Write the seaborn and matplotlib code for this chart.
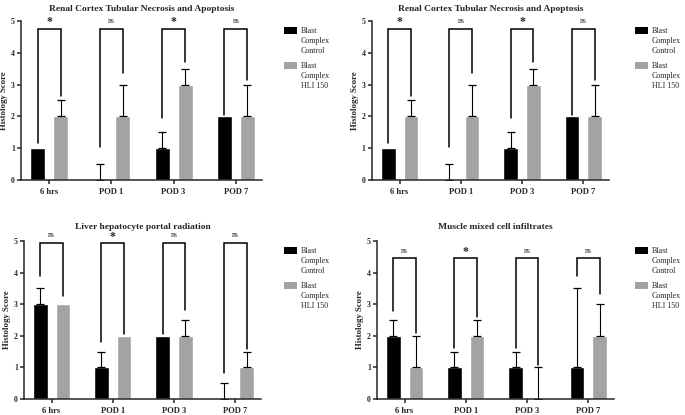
import numpy as np
import pandas as pd
import seaborn as sns
import matplotlib.pyplot as plt
from matplotlib.patches import Rectangle

times = ['6 hrs', 'POD 1', 'POD 3', 'POD 7']
groups = ['Blast Complex Control', 'Blast Complex HLI 150']
legend_labels = ['Blast\nComplex\nControl', 'Blast\nComplex\nHLI 150']
colors = ['#000000', '#a3a3a3']

# renal cortex (same panel shown twice)
renal_ctrl = [1, 0, 1, 2]
renal_ctrl_err = [0, 0.5, 0.5, 0]
renal_hli = [2, 2, 3, 2]
renal_hli_err = [0.5, 1, 0.5, 1]
renal_sig = ['*', 'ns', '*', 'ns']
renal_leg_ctrl = [1.15, 1.05, 1.95, 2.05]
renal_leg_hli = [2.65, 3.35, 3.7, 3.15]

# liver
liver_ctrl = [3, 1, 2, 0]
liver_ctrl_err = [0.5, 0.5, 0, 0.5]
liver_hli = [3, 2, 2, 1]
liver_hli_err = [0, 0, 0.5, 0.5]
liver_sig = ['ns', '*', 'ns', 'ns']
liver_leg_ctrl = [3.9, 1.8, 2.05, 0.82]
liver_leg_hli = [3.25, 2.05, 2.82, 1.58]

# muscle
muscle_ctrl = [2, 1, 1, 1]
muscle_ctrl_err = [0.5, 0.5, 0.5, 2.5]
muscle_hli = [1, 2, 0, 2]
muscle_hli_err = [1, 0.5, 1, 1]
muscle_sig = ['ns', '*', 'ns', 'ns']
muscle_leg_ctrl = [2.78, 1.62, 1.62, 3.9]
muscle_leg_hli = [2.1, 2.6, 1.08, 3.32]

W, H = 685, 415


def add_legend(ax, px_left):
    # legend drawn by hand so the swatch sits next to the first text line
    bb = ax.get_position()
    ax_l, ax_top = bb.x0 * W, (1 - bb.y1) * H
    ax_w, ax_h = bb.width * W, bb.height * H
    fx = lambda px: (px - ax_l) / ax_w
    fy = lambda py: 1 - (py - ax_top) / ax_h
    for k, (c, lab) in enumerate(zip(colors, legend_labels)):
        top = ax_top + 6 + 35 * k
        ax.add_patch(Rectangle((fx(px_left), fy(top + 7)), 13 / ax_w, 7 / ax_h,
                               transform=ax.transAxes, facecolor=c,
                               edgecolor='none', clip_on=False))
        ax.text(fx(px_left + 17), fy(top + 0.3), lab, transform=ax.transAxes,
                ha='left', va='top', fontsize=5.8, linespacing=1.3)


def draw_panel(ax, title, ctrl, ctrl_err, hli, hli_err, sig, top, leg_ctrl, leg_hli,
               title_pad, legend_x):
    df = pd.DataFrame({'time': times * 2,
                       'group': [groups[0]] * 4 + [groups[1]] * 4,
                       'score': ctrl + hli})
    sns.barplot(data=df, x='time', y='score', hue='group', palette=colors,
                saturation=1, width=0.74, gap=0.35, errorbar=None,
                legend=False, ax=ax)
    centers = []
    for cont, errs in zip(ax.containers, [ctrl_err, hli_err]):
        xs = np.array([b.get_x() + b.get_width() / 2 for b in cont])
        ys = np.array([b.get_height() for b in cont])
        centers.append(xs)
        e = np.array(errs, dtype=float)
        m = e > 0
        ax.errorbar(xs[m], ys[m], yerr=[np.zeros(m.sum()), e[m]], fmt='none',
                    ecolor='black', elinewidth=0.8, capsize=3.2, capthick=0.9)
    # significance brackets
    for i in range(4):
        xc, xh = centers[0][i], centers[1][i]
        ax.plot([xc, xc, xh, xh], [leg_ctrl[i], top, top, leg_hli[i]],
                color='black', lw=1.1, clip_on=False, solid_joinstyle='miter')
        if sig[i] == '*':
            ax.text((xc + xh) / 2, top + 0.02, '*', ha='center', va='bottom',
                    fontsize=8.5, fontweight='bold', clip_on=False)
        else:
            ax.text((xc + xh) / 2, top + 0.12, 'ns', ha='center', va='bottom',
                    fontsize=5.5, clip_on=False)

    ax.set_ylim(0, 5)
    ax.set_yticks([0, 1, 2, 3, 4, 5])
    ax.set_xlim(-0.45, 3.42)
    ax.set_xlabel('')
    ax.set_ylabel('Histology Score', fontsize=6.3, fontweight='bold', labelpad=2)
    ax.set_title(title, fontsize=6.8, fontweight='bold', pad=title_pad)
    sns.despine(ax=ax)
    for s in ['left', 'bottom']:
        ax.spines[s].set_linewidth(1.1)
    ax.tick_params(axis='both', width=1.1, length=3, pad=1.5)
    ax.tick_params(axis='x', labelsize=6.1, pad=3)
    ax.tick_params(axis='y', labelsize=5.6)
    for lab in ax.get_xticklabels() + ax.get_yticklabels():
        lab.set_fontweight('bold')
    add_legend(ax, legend_x)


sns.set_style('ticks')
plt.rcParams['font.family'] = ['Liberation Serif', 'DejaVu Serif']

fig = plt.figure(figsize=(6.85, 4.15), dpi=100)
ax1 = fig.add_axes([21 / W, 1 - 180 / H, 241 / W, 159 / H])
ax2 = fig.add_axes([372 / W, 1 - 180 / H, 237 / W, 159 / H])
ax3 = fig.add_axes([24 / W, 1 - 399 / H, 237 / W, 158 / H])
ax4 = fig.add_axes([377 / W, 1 - 399 / H, 237 / W, 158 / H])

draw_panel(ax1, 'Renal Cortex Tubular Necrosis and Apoptosis', renal_ctrl, renal_ctrl_err,
           renal_hli, renal_hli_err, renal_sig, 4.75, renal_leg_ctrl, renal_leg_hli, 7.5, 284)
draw_panel(ax2, 'Renal Cortex Tubular Necrosis and Apoptosis', renal_ctrl, renal_ctrl_err,
           renal_hli, renal_hli_err, renal_sig, 4.75, renal_leg_ctrl, renal_leg_hli, 7.5, 635)
draw_panel(ax3, 'Liver hepatocyte portal radiation', liver_ctrl, liver_ctrl_err,
           liver_hli, liver_hli_err, liver_sig, 4.93, liver_leg_ctrl, liver_leg_hli, 9, 284)
draw_panel(ax4, 'Muscle mixed cell infiltrates', muscle_ctrl, muscle_ctrl_err,
           muscle_hli, muscle_hli_err, muscle_sig, 4.45, muscle_leg_ctrl, muscle_leg_hli, 9, 635)

fig.savefig('out.png', dpi=100)
